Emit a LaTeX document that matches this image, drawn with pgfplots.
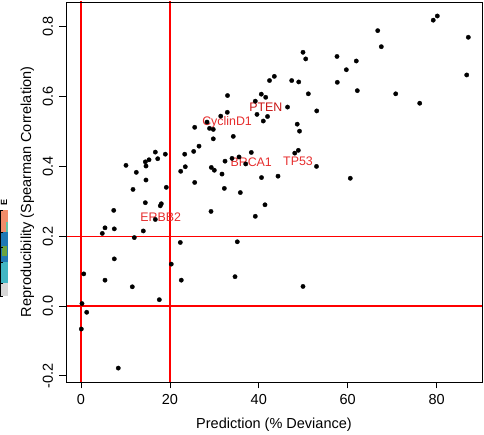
\documentclass[border=0pt]{standalone}
\usepackage{fontspec}
\setmainfont{Liberation Sans}
\usepackage{pgfplots}
\pgfplotsset{compat=1.18}
\definecolor{lab}{RGB}{230,45,45}
\definecolor{labdark}{RGB}{200,20,20}
\definecolor{stOrange}{RGB}{242,140,106}
\definecolor{stTeal}{RGB}{102,194,165}
\definecolor{stBlue}{RGB}{31,120,180}
\definecolor{stGreen}{RGB}{107,163,62}
\definecolor{stCyan}{RGB}{65,182,196}
\definecolor{stGray}{RGB}{215,215,215}
\begin{document}
\fontsize{14.5bp}{17bp}\selectfont
\begin{tikzpicture}
\useasboundingbox (0,0) rectangle (484bp,435bp);
% clipped strip of a neighbouring panel at the left edge
\fill[stOrange] (0bp,203bp) rectangle (8bp,225bp);
\fill[stTeal] (6bp,199bp) rectangle (8bp,213bp);
\fill[stBlue] (0bp,173bp) rectangle (8bp,203bp);
\fill[stGreen] (2bp,179bp) rectangle (7bp,189bp);
\fill[stCyan] (0bp,152bp) rectangle (8bp,173bp);
\fill[stGray] (0bp,139bp) rectangle (8bp,152bp);
\draw[black, line width=0.8bp] (0.5bp,139bp) -- (0.5bp,225bp);
\foreach \yy in {139,152,173,188,203,225} {\draw[black, line width=0.8bp] (0bp,\yy bp) -- (3bp,\yy bp);}
\node[rotate=90, inner sep=0pt, font=\fontsize{9bp}{10bp}\selectfont\bfseries] at (4bp,232bp) {E};
\begin{axis}[
  at={(66bp,53bp)}, anchor=south west,
  scale only axis, width=416bp, height=380bp,
  xmin=-3.375, xmax=90.21, ymin=-0.2178, ymax=0.8711,
  axis line style={black, line width=0.8bp},
  tick style={black, line width=0.8bp},
  tick align=outside, major tick length=6.5bp,
  xtick pos=lower, ytick pos=left,
  xtick={0,20,40,60,80}, xticklabels={0,20,40,60,80},
  ytick={-0.2,0,0.2,0.4,0.6,0.8}, yticklabels={-0.2,0.0,0.2,0.4,0.6,0.8},
  xticklabel style={anchor=base, inner sep=0pt},
  yticklabel style={rotate=90, anchor=base, inner sep=0pt},
  xticklabel shift=16.5bp, yticklabel shift=6.5bp,
  xlabel={Prediction (\% Deviance)},
  ylabel={Reproducibility (Spearman Correlation)},
  xlabel style={at={(axis description cs:0.5,0)}, anchor=base, inner sep=0pt, yshift=-47bp},
  ylabel style={at={(axis description cs:-0.0841,0.5)}, rotate=0, anchor=base, inner sep=0pt},
  clip=true,
]
\addplot[red, line width=1.2bp] coordinates {(0,-0.5) (0,1)};
\addplot[red, line width=1.2bp] coordinates {(20,-0.5) (20,1)};
\addplot[red, line width=1.2bp] coordinates {(-10,0) (100,0)};
\addplot[red, line width=1.2bp] coordinates {(-10,0.2) (100,0.2)};
\addplot[only marks, mark=*, mark size=2.2bp, black, mark options={solid, fill=black, draw=black, line width=0.3bp}] coordinates {
(0.07,-0.066) (0.22,0.007) (1.28,-0.018) (0.61,0.092) (8.39,-0.178)
(5.40,0.074) (7.49,0.135) (11.54,0.055) (17.62,0.018) (20.31,0.120)
(22.56,0.074) (11.99,0.196) (22.34,0.182) (5.40,0.224) (4.79,0.208)
(7.49,0.221) (14.02,0.215) (7.36,0.274) (16.72,0.248) (14.47,0.296)
(18.07,0.293) (17.84,0.287) (11.70,0.334) (19.19,0.340) (14.62,0.361)
(12.44,0.383) (10.12,0.403) (14.62,0.401) (14.47,0.413) (15.30,0.419)
(17.26,0.422) (16.72,0.441) (18.97,0.435) (23.33,0.435) (25.35,0.443)
(26.55,0.458) (25.58,0.512) (23.46,0.399) (22.43,0.386) (25.58,0.354)
(29.25,0.271) (39.21,0.257) (41.39,0.290) (32.24,0.337) (35.84,0.325)
(35.16,0.184) (34.65,0.084) (49.94,0.056) (31.72,0.378) (29.31,0.397)
(29.99,0.389) (40.61,0.368) (44.32,0.372) (32.40,0.415) (33.97,0.423)
(35.55,0.427) (38.31,0.440) (37.05,0.407) (29.76,0.479) (34.26,0.486)
(28.35,0.527) (28.91,0.509) (29.76,0.506) (31.43,0.544) (32.91,0.555)
(32.96,0.603) (39.59,0.549) (41.96,0.543) (41.01,0.530) (39.21,0.587)
(40.56,0.607) (41.55,0.598) (42.41,0.646) (43.49,0.658) (46.46,0.570)
(47.40,0.646) (48.98,0.642) (51.14,0.608) (48.64,0.521) (49.16,0.501)
(48.89,0.446) (48.08,0.438) (53.03,0.559) (52.98,0.400) (49.94,0.727)
(50.55,0.708) (57.59,0.715) (57.66,0.641) (59.69,0.677) (61.93,0.702)
(62.16,0.617) (60.58,0.366) (66.75,0.789) (67.56,0.743) (70.80,0.608)
(76.20,0.581) (79.24,0.819) (80.16,0.831) (87.13,0.770) (86.77,0.662)
};
\begin{scope}[every node/.style={anchor=base, inner sep=0pt, font=\fontsize{12.4bp}{14bp}\selectfont}]
\node[text=lab] at (axis cs:32.86,0.516) {CyclinD1};
\node[text=lab] at (axis cs:38.29,0.400) {BRCA1};
\node[text=lab] at (axis cs:48.82,0.404) {TP53};
\node[text=labdark] at (axis cs:41.57,0.557) {PTEN};
\node[text=lab] at (axis cs:17.95,0.242) {ERBB2};
\end{scope}
\end{axis}
\draw[black, line width=0.8bp] (66bp,53bp) rectangle (482bp,433bp);
\end{tikzpicture}
\end{document}
